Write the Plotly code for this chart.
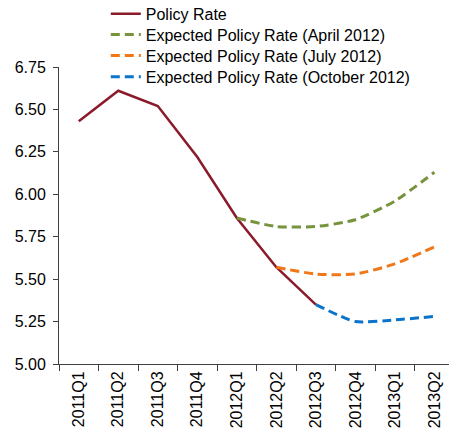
import plotly.graph_objects as go

quarters = ["2011Q1", "2011Q2", "2011Q3", "2011Q4", "2012Q1", "2012Q2",
            "2012Q3", "2012Q4", "2013Q1", "2013Q2"]

policy_x = ["2011Q1", "2011Q2", "2011Q3", "2011Q4", "2012Q1", "2012Q2", "2012Q3"]
policy_rate = [6.43, 6.61, 6.52, 6.22, 5.86, 5.57, 5.35]

april_x = ["2012Q1", "2012Q2", "2012Q3", "2012Q4", "2013Q1", "2013Q2"]
april_rate = [5.86, 5.81, 5.81, 5.85, 5.96, 6.13]

july_x = ["2012Q2", "2012Q3", "2012Q4", "2013Q1", "2013Q2"]
july_rate = [5.57, 5.53, 5.53, 5.59, 5.69]

october_x = ["2012Q3", "2012Q4", "2013Q1", "2013Q2"]
october_rate = [5.35, 5.25, 5.26, 5.28]

y_ticks = [5.00, 5.25, 5.50, 5.75, 6.00, 6.25, 6.50, 6.75]

FONT = "Arial, Liberation Sans, sans-serif"
dash = "9px,5px"

fig = go.Figure()
fig.add_trace(go.Scatter(x=policy_x, y=policy_rate, mode="lines", name="Policy Rate",
                         legend="legend",
                         line=dict(color="#8B1A2B", width=2.5)))
fig.add_trace(go.Scatter(x=april_x, y=april_rate, mode="lines",
                         name="Expected Policy Rate (April 2012)", legend="legend2",
                         line=dict(color="#77933C", width=3, dash=dash, shape="spline", smoothing=0.6)))
fig.add_trace(go.Scatter(x=july_x, y=july_rate, mode="lines",
                         name="Expected Policy Rate (July 2012)", legend="legend3",
                         line=dict(color="#F07818", width=3, dash=dash, shape="spline", smoothing=0.6)))
fig.add_trace(go.Scatter(x=october_x, y=october_rate, mode="lines",
                         name="Expected Policy Rate (October 2012)", legend="legend4",
                         line=dict(color="#0A74CC", width=3, dash=dash, shape="spline", smoothing=0.6)))

def leg(y):
    return dict(x=0.12, y=y, xanchor="left", yanchor="middle",
                bgcolor="rgba(0,0,0,0)", font=dict(size=16, color="black"),
                itemwidth=30)

fig.update_layout(
    width=449, height=436,
    margin=dict(l=59, r=0, t=67, b=72, autoexpand=False),
    paper_bgcolor="white", plot_bgcolor="white",
    font=dict(family=FONT, size=16, color="black"),
    legend=leg(1.179), legend2=leg(1.109), legend3=leg(1.038), legend4=leg(0.967),
    showlegend=True,
)
fig.update_xaxes(type="category", categoryorder="array", categoryarray=quarters,
                 range=[-0.5, 9.37], showgrid=False, showline=True, linecolor="#404040",
                 linewidth=1, ticks="outside", tickson="boundaries", ticklen=6,
                 tickcolor="#404040", tickangle=-90, tickfont=dict(size=16, color="black"))
fig.update_yaxes(range=[5.0, 6.75], tickvals=y_ticks,
                 ticktext=[f"{v:.2f}" for v in y_ticks], showgrid=False, zeroline=False,
                 showline=True, linecolor="#404040", linewidth=1, ticks="outside",
                 ticklen=5, tickcolor="#404040", ticklabelstandoff=4,
                 tickfont=dict(size=16, color="black"))

fig.write_html("out.html")
